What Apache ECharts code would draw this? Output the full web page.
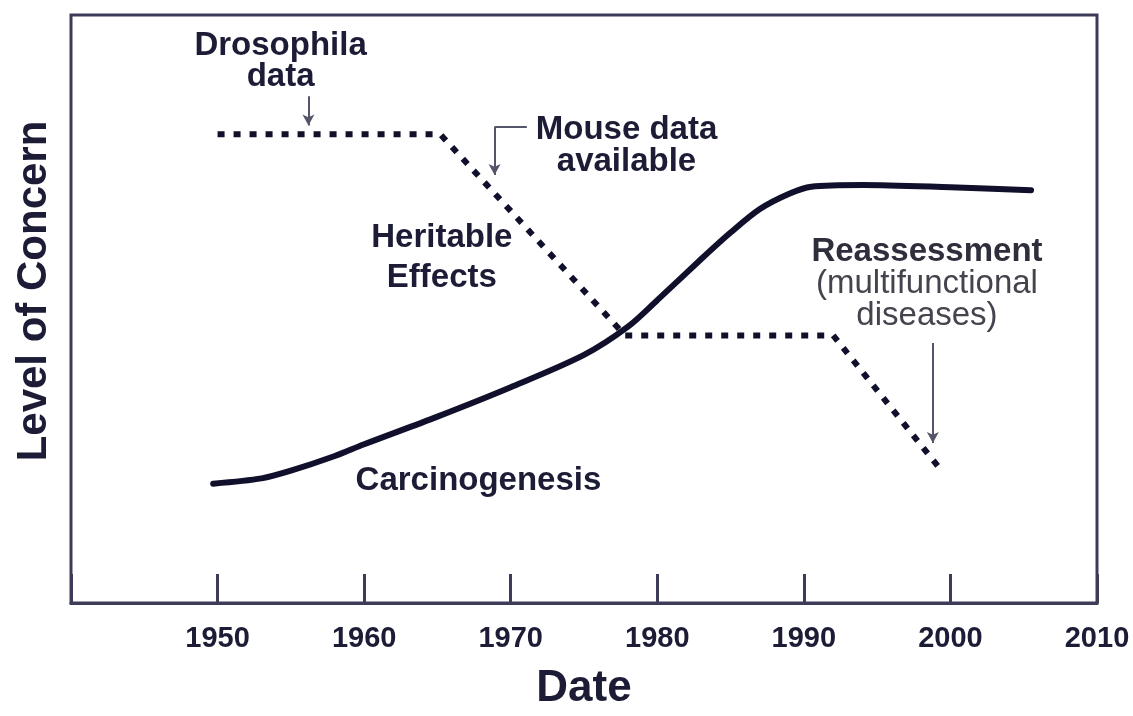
<!DOCTYPE html>
<html>
<head>
<meta charset="utf-8">
<script src="https://cdn.jsdelivr.net/npm/echarts@6/dist/echarts.min.js"></script>
<style>
  html, body { margin: 0; padding: 0; background: #fff; }
  #chart { width: 1133px; height: 716px; }
</style>
</head>
<body>
<div id="chart"></div>
<script>
// 数据：年份 / 关注程度（0-100，无刻度）
const yearTicks = [1950, 1960, 1970, 1980, 1990, 2000, 2010];

const carcinoYears = [1949.7, 1953, 1955, 1958, 1960, 1965, 1970, 1975, 1978, 1980, 1983, 1985, 1987, 1989, 1990.5, 1994, 2000, 2005.5];
const carcinoLevel = [20.3, 21.2, 22.5, 25, 27, 31.7, 36.7, 42.2, 47, 51.5, 58.5, 63, 67, 69.6, 70.8, 71.1, 70.7, 70.2];

const heritableYears = [1950, 1965.2, 1977.8, 1992, 1999.3];
const heritableLevel = [79.7, 79.7, 45.5, 45.5, 22.8];

// 注释箭头（数据坐标）
const arrows = [
  { from: [1956.2, 86.2], to: [1956.2, 81.2], head: true },
  { from: [1971.1, 81], to: [1968.9, 81], head: false },
  { from: [1968.9, 81], to: [1968.9, 72.8], head: true },
  { from: [1998.8, 44.2], to: [1998.8, 27.2], head: true }
];

// 注释文字（数据坐标为文字中心）
const notes = [
  { text: 'Drosophila\ndata', at: [1954.3, 92.1], lh: 31, bold: true, color: '#1c1c36' },
  { text: 'Mouse data\navailable', at: [1977.9, 77.7], lh: 32, bold: true, color: '#1c1c36' },
  { text: 'Heritable\nEffects', at: [1965.3, 58.7], lh: 40, bold: true, color: '#1c1c36' },
  { text: 'Carcinogenesis', at: [1967.8, 20.7], lh: 32, bold: true, color: '#1c1c36' },
  { text: 'Reassessment', at: [1998.4, 59.7], lh: 32, bold: true, color: '#2e2e3c' },
  { text: '(multifunctional\ndiseases)', at: [1998.4, 51.5], lh: 32, bold: false, color: '#44444e' }
];

const lineColor = '#10102c';
const frameColor = '#3c3c58';
const font = '"Liberation Sans", Arial, sans-serif';

const chart = echarts.init(document.getElementById('chart'));

const option = {
  animation: false,
  grid: {
    left: 71, top: 15, width: 1026, height: 600,
    show: true,
    borderColor: frameColor,
    borderWidth: 3
  },
  xAxis: {
    type: 'value',
    min: 1940,
    max: 2010,
    interval: 10,
    name: 'Date',
    nameLocation: 'middle',
    nameGap: 64,
    nameTextStyle: { fontSize: 44, fontWeight: 'bold', color: '#1c1c36', fontFamily: font },
    axisLine: { show: true, lineStyle: { color: frameColor, width: 3 } },
    axisTick: { show: true, inside: true, length: 29, lineStyle: { color: frameColor, width: 3 } },
    splitLine: { show: false },
    axisLabel: {
      fontSize: 29,
      fontWeight: 'bold',
      color: '#1c1c36',
      fontFamily: font,
      margin: 21,
      formatter: v => (yearTicks.indexOf(v) >= 0 ? String(v) : '')
    }
  },
  yAxis: {
    type: 'value',
    min: 0,
    max: 100,
    name: 'Level of Concern',
    nameLocation: 'middle',
    nameGap: 16,
    nameRotate: 90,
    nameTextStyle: {
      fontSize: 42, fontWeight: 'bold', color: '#1c1c36', fontFamily: font,
      padding: [0, 0, 0, 36]
    },
    axisLine: { show: false },
    axisTick: { show: false },
    axisLabel: { show: false },
    splitLine: { show: false }
  },
  series: [
    {
      name: 'Carcinogenesis',
      type: 'line',
      data: carcinoYears.map((x, i) => [x, carcinoLevel[i]]),
      smooth: 0.3,
      showSymbol: false,
      lineStyle: { color: lineColor, width: 6, cap: 'round' },
      z: 3
    },
    {
      name: 'Heritable Effects',
      type: 'line',
      data: heritableYears.map((x, i) => [x, heritableLevel[i]]),
      showSymbol: false,
      lineStyle: { color: lineColor, width: 6, type: [7, 9], cap: 'butt' },
      z: 2
    },
    {
      name: 'arrows',
      type: 'line',
      data: [],
      markLine: {
        silent: true,
        animation: false,
        symbolSize: [9, 11],
        label: { show: false },
        lineStyle: { color: '#55556a', width: 2, type: 'solid' },
        data: arrows.map(a => [
          { coord: a.from, symbol: 'none' },
          { coord: a.to, symbol: a.head ? 'arrow' : 'none' }
        ])
      }
    }
  ]
};

chart.setOption(option);

// 把注释文字放到数据坐标上
const graphics = notes.map(n => {
  const p = chart.convertToPixel({ gridIndex: 0 }, n.at);
  return {
    type: 'text',
    x: p[0],
    y: p[1],
    silent: true,
    style: {
      text: n.text,
      fill: n.color,
      font: (n.bold ? 'bold ' : '') + '33px ' + font,
      align: 'center',
      verticalAlign: 'middle',
      lineHeight: n.lh
    }
  };
});
chart.setOption({ graphic: graphics });
</script>
</body>
</html>
